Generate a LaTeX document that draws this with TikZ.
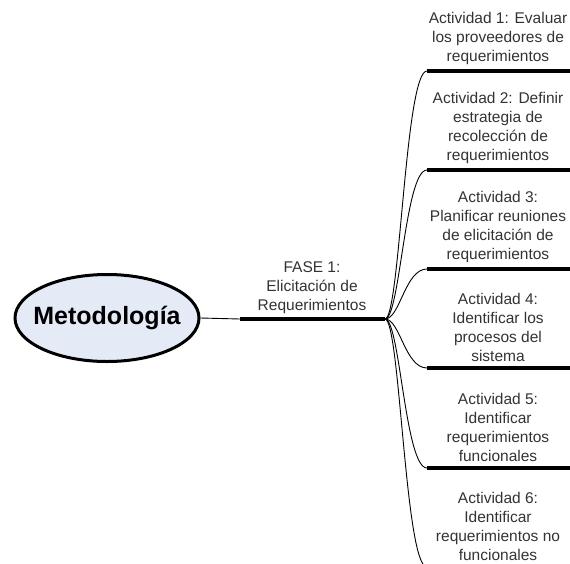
\documentclass[tikz,border=0pt]{standalone}
\usepackage{fontspec}
\setmainfont{Liberation Sans}
\usetikzlibrary{shapes.geometric}
\definecolor{rootfill}{HTML}{E4EAF6}
\definecolor{txtgray}{HTML}{333333}
\begin{document}
\begin{tikzpicture}[x=1pt,y=-1pt,
  bar/.style={line width=4.5pt},
  link/.style={line width=0.9pt},
  acttext/.style={align=center, anchor=south, inner sep=0pt,
    font=\fontsize{15.5}{19}\selectfont, text=txtgray},
  root/.style={ellipse, draw, line width=3pt, fill=rootfill,
    minimum width=184pt, minimum height=87pt, inner sep=0pt,
    font=\fontsize{25}{30}\selectfont\bfseries}]
\useasboundingbox (0,0) rectangle (570,563);
\node[root] (m) at (107,318) {\makebox[0pt][c]{Metodología}};
\coordinate (f0) at (240,319);
\coordinate (f1) at (385,319);
\draw[link] (m.east) -- (f0);
\draw[bar] (f0) -- (f1);
\node[acttext] (ft) at (312,314) {FASE 1:\\Elicitación de\\Requerimientos};
% activity bars
\foreach \i/\y in {1/71,2/170,3/269,4/368,5/468,6/567}{
  \coordinate (a\i L) at (427,\y);
  \coordinate (a\i R) at (570,\y);
  \coordinate (c\i) at (405,\y);
}
\foreach \i in {1,...,5}{ \draw[bar] (a\i L) -- (a\i R); }
\foreach \i in {1,...,6}{
  \draw[link] (f1) .. controls (400,319) and (c\i) .. (a\i L);
}
\node[acttext] (t1) at (498,65) {Actividad 1: Evaluar\\los proveedores de\\requerimientos};
\node[acttext] (t2) at (498,164) {Actividad 2: Definir\\estrategia de\\recolección de\\requerimientos};
\node[acttext] (t3) at (498,263) {Actividad 3:\\Planificar reuniones\\de elicitación de\\requerimientos};
\node[acttext] (t4) at (498,362) {Actividad 4:\\Identificar los\\procesos del\\sistema};
\node[acttext] (t5) at (498,462) {Actividad 5:\\Identificar\\requerimientos\\funcionales};
\node[acttext] (t6) at (498,561) {Actividad 6:\\Identificar\\requerimientos no\\funcionales};
\end{tikzpicture}
\end{document}
